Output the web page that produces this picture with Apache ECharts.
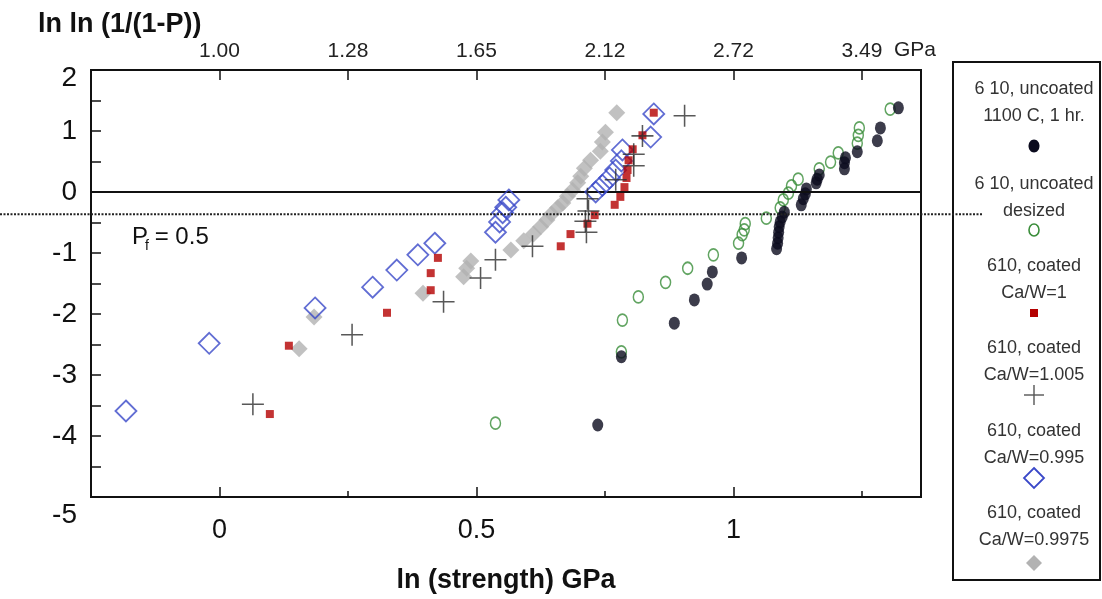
<!DOCTYPE html>
<html>
<head>
<meta charset="utf-8">
<script src="https://cdn.jsdelivr.net/npm/echarts@6/dist/echarts.min.js"></script>
<style>
  html, body { margin: 0; padding: 0; background: #fff; }
  #chart { width: 1102px; height: 599px; }
</style>
</head>
<body>
<div id="chart"></div>
<script>
// Weibull plot: ln ln (1/(1-P)) against ln(strength), 610 fibre tows

// [ln(strength / GPa), ln ln (1/(1-P))]
const uncoated1100C = [
  [0.736,-3.82],[0.782,-2.70],[0.885,-2.15],[0.924,-1.77],[0.949,-1.51],[0.959,-1.31],
  [1.016,-1.08],[1.084,-0.93],[1.086,-0.84],[1.087,-0.75],[1.088,-0.66],[1.089,-0.57],
  [1.091,-0.49],[1.095,-0.41],[1.099,-0.33],[1.132,-0.21],[1.136,-0.11],[1.140,-0.03],
  [1.142,0.05],[1.161,0.15],[1.163,0.21],[1.167,0.28],[1.216,0.38],[1.216,0.48],
  [1.218,0.56],[1.241,0.66],[1.280,0.84],[1.286,1.05],[1.321,1.38]
];
const uncoatedDesized = [
  [0.537,-3.79],[0.782,-2.62],[0.784,-2.10],[0.815,-1.72],[0.868,-1.48],[0.911,-1.25],
  [0.961,-1.03],[1.010,-0.84],[1.017,-0.70],[1.021,-0.62],[1.023,-0.52],[1.064,-0.43],
  [1.091,-0.26],[1.097,-0.13],[1.107,-0.02],[1.113,0.10],[1.126,0.21],[1.167,0.38],
  [1.189,0.49],[1.204,0.64],[1.241,0.80],[1.243,0.93],[1.245,1.05],[1.305,1.36]
];
const coatedCaW1 = [
  [0.098,-3.64],[0.135,-2.52],[0.326,-1.98],[0.411,-1.61],[0.411,-1.33],[0.425,-1.08],
  [0.664,-0.89],[0.683,-0.69],[0.716,-0.52],[0.730,-0.38],[0.769,-0.21],[0.780,-0.08],
  [0.788,0.08],[0.792,0.23],[0.794,0.36],[0.796,0.52],[0.804,0.70],[0.823,0.93],[0.845,1.30]
];
const coatedCaW1005 = [
  [0.065,-3.48],[0.258,-2.34],[0.436,-1.80],[0.508,-1.41],[0.537,-1.11],[0.609,-0.89],
  [0.714,-0.66],[0.712,-0.48],[0.718,-0.31],[0.716,-0.11],[0.771,0.20],[0.806,0.43],
  [0.806,0.62],[0.823,0.92],[0.905,1.25]
];
const coatedCaW0995 = [
  [-0.182,-3.59],[-0.020,-2.48],[0.186,-1.90],[0.298,-1.56],[0.345,-1.28],[0.386,-1.03],
  [0.419,-0.84],[0.537,-0.66],[0.545,-0.49],[0.551,-0.34],[0.557,-0.25],[0.563,-0.13],
  [0.732,0.00],[0.745,0.11],[0.759,0.23],[0.771,0.36],[0.782,0.51],[0.784,0.69],
  [0.839,0.90],[0.845,1.28]
];
const coatedCaW09975 = [
  [0.155,-2.57],[0.184,-2.05],[0.396,-1.66],[0.475,-1.39],[0.481,-1.25],[0.489,-1.13],
  [0.567,-0.95],[0.592,-0.80],[0.611,-0.69],[0.625,-0.57],[0.637,-0.46],[0.646,-0.36],
  [0.658,-0.26],[0.668,-0.18],[0.677,-0.07],[0.687,0.03],[0.697,0.15],[0.703,0.26],
  [0.710,0.39],[0.722,0.52],[0.741,0.67],[0.745,0.82],[0.751,0.98],[0.773,1.30]
];

// axis ticks
const lnMajorTicks = [0, 0.5, 1];
const lnMinorTicks = [0.25, 0.75, 1.25];
const gpaTicks = [0, 0.25, 0.5, 0.75, 1, 1.25];
const gpaLabels = ['1.00', '1.28', '1.65', '2.12', '2.72', '3.49'];

// median failure probability, P = 0.5
const pfLevel = Math.log(Math.log(2));

const FONT = '"Liberation Sans", Arial, sans-serif';
const INK = '#111';

const CROSS = 'path://M0,9.3H20V10.7H0Z M9.3,0H10.7V20H9.3Z';

const seriesDefs = [
  { name: '6 10, uncoated\ndesized', data: uncoatedDesized, icon: 'ring',
    symbol: 'circle', size: [10, 12],
    style: { color: 'rgba(0,0,0,0)', borderColor: '#3a8d3a', borderWidth: 1.6 }, z: 2 },
  { name: '6 10, uncoated\n1100 C, 1 hr.', data: uncoated1100C, icon: 'dot',
    symbol: 'circle', size: [11, 13], style: { color: '#0b0b1e' }, z: 3 },
  { name: '610, coated\nCa/W=0.9975', data: coatedCaW09975, icon: 'solidDiamond',
    symbol: 'diamond', size: 17, style: { color: '#b2b2b2' }, z: 4 },
  { name: '610, coated\nCa/W=0.995', data: coatedCaW0995, icon: 'openDiamond',
    symbol: 'diamond', size: 21,
    style: { color: 'rgba(0,0,0,0)', borderColor: '#3a48c8', borderWidth: 1.8 }, z: 5 },
  { name: '610, coated\nCa/W=1', data: coatedCaW1, icon: 'square',
    symbol: 'rect', size: 8, style: { color: '#b40000' }, z: 6 },
  { name: '610, coated\nCa/W=1.005', data: coatedCaW1005, icon: 'cross',
    symbol: CROSS, size: 22, style: { color: '#2e2e2e' }, z: 7 }
];

// order of entries in the key box
const keyOrder = [
  '6 10, uncoated\n1100 C, 1 hr.',
  '6 10, uncoated\ndesized',
  '610, coated\nCa/W=1',
  '610, coated\nCa/W=1.005',
  '610, coated\nCa/W=0.995',
  '610, coated\nCa/W=0.9975'
];

const chart = echarts.init(document.getElementById('chart'), null, { renderer: 'canvas' });

const series = seriesDefs.map(d => ({
  name: d.name,
  type: 'scatter',
  data: d.data,
  symbol: d.symbol,
  symbolSize: d.size,
  itemStyle: d.style,
  z: d.z,
  silent: true
}));

// solid reference line at zero
series.push({
  type: 'scatter',
  data: [],
  silent: true,
  markLine: {
    silent: true,
    symbol: 'none',
    label: { show: false },
    lineStyle: { color: INK, width: 2, type: 'solid' },
    data: [{ yAxis: 0 }]
  }
});

const xMin = -0.25, xMax = 1.365;
const yMin = -5, yMax = 2;

chart.setOption({
  animation: false,
  title: {
    text: 'ln ln (1/(1-P))',
    left: 33, top: 6,
    textStyle: { fontFamily: FONT, fontSize: 27, fontWeight: 'bold', color: INK }
  },
  grid: {
    left: 91, top: 70, width: 830, height: 427,
    show: true, borderColor: INK, borderWidth: 2, backgroundColor: 'rgba(0,0,0,0)'
  },
  xAxis: [
    {
      type: 'value', position: 'bottom', min: xMin, max: xMax,
      name: 'ln (strength) GPa', nameLocation: 'middle', nameGap: 70,
      nameTextStyle: { fontFamily: FONT, fontSize: 27, fontWeight: 'bold', color: INK },
      axisLine: { show: false, onZero: false },
      splitLine: { show: false },
      axisTick: { show: true, inside: true, length: 10, customValues: lnMajorTicks,
                  lineStyle: { color: INK, width: 1.5 } },
      axisLabel: { customValues: lnMajorTicks, fontFamily: FONT, fontSize: 27, color: INK, margin: 20,
                   formatter: v => String(v) }
    },
    {
      type: 'value', position: 'top', min: xMin, max: xMax,
      axisLine: { show: false, onZero: false },
      splitLine: { show: false },
      axisTick: { show: true, inside: true, length: 10, customValues: gpaTicks,
                  lineStyle: { color: INK, width: 1.5 } },
      axisLabel: { customValues: gpaTicks, fontFamily: FONT, fontSize: 21, color: '#222', margin: 8,
                   formatter: v => {
                     const i = gpaTicks.findIndex(t => Math.abs(t - v) < 1e-6);
                     return i >= 0 ? gpaLabels[i] : '';
                   } }
    },
    {
      type: 'value', position: 'bottom', min: xMin, max: xMax,
      axisLine: { show: false, onZero: false },
      splitLine: { show: false },
      axisTick: { show: true, inside: true, length: 6, customValues: lnMinorTicks,
                  lineStyle: { color: INK, width: 1.5 } },
      axisLabel: { show: false }
    }
  ],
  yAxis: {
    type: 'value', min: yMin, max: yMax, interval: 1,
    axisLine: { show: false, onZero: false },
    splitLine: { show: false },
    axisTick: { show: true, inside: true, length: 10, lineStyle: { color: INK, width: 1.5 } },
    minorTick: { show: true, splitNumber: 2, length: 10, lineStyle: { color: INK, width: 1.5 } },
    axisLabel: {
      fontFamily: FONT, fontSize: 28, color: INK, margin: 14,
      formatter: v => v === yMin ? '{lo|' + v + '}' : v === yMax ? '{hi|' + v + '}' : String(v),
      rich: {
        lo: { fontFamily: FONT, fontSize: 28, color: INK, padding: [36, 0, 0, 0] },
        hi: { fontFamily: FONT, fontSize: 28, color: INK, padding: [16, 0, 0, 0] }
      }
    }
  },
  series: series
});

// key box, P = 0.5 line and annotations
function keyIcon(kind, cx, cy) {
  switch (kind) {
    case 'dot':
      return { type: 'ellipse', shape: { cx, cy, rx: 5.5, ry: 6.5 }, style: { fill: '#0b0b1e' } };
    case 'ring':
      return { type: 'ellipse', shape: { cx, cy, rx: 5, ry: 6 },
               style: { fill: 'none', stroke: '#3a8d3a', lineWidth: 1.6 } };
    case 'square':
      return { type: 'rect', shape: { x: cx - 4, y: cy - 4, width: 8, height: 8 }, style: { fill: '#b40000' } };
    case 'cross':
      return { type: 'group', children: [
        { type: 'line', shape: { x1: cx - 10, y1: cy, x2: cx + 10, y2: cy }, style: { stroke: '#555', lineWidth: 1.4 } },
        { type: 'line', shape: { x1: cx, y1: cy - 10, x2: cx, y2: cy + 10 }, style: { stroke: '#555', lineWidth: 1.4 } }
      ] };
    case 'openDiamond':
      return { type: 'polygon', shape: { points: [[cx, cy - 10], [cx + 10, cy], [cx, cy + 10], [cx - 10, cy]] },
               style: { fill: 'none', stroke: '#3a48c8', lineWidth: 1.8 } };
    case 'solidDiamond':
      return { type: 'polygon', shape: { points: [[cx, cy - 8], [cx + 8, cy], [cx, cy + 8], [cx - 8, cy]] },
               style: { fill: '#b2b2b2' } };
  }
}

const keyX = 1034;
const keyTextTop = [76, 171, 253, 335, 418, 500];
const keyIconY = [146, 230, 313, 395, 478, 563];
const keyChildren = [
  { type: 'rect', shape: { x: 953, y: 62, width: 147, height: 518 },
    style: { fill: '#fff', stroke: INK, lineWidth: 2 } }
];
keyOrder.forEach((name, i) => {
  const def = seriesDefs.find(d => d.name === name);
  keyChildren.push({
    type: 'text',
    style: { x: keyX, y: keyTextTop[i], text: name, align: 'center', verticalAlign: 'top',
             font: '18px ' + FONT, fill: '#333', lineHeight: 27 }
  });
  keyChildren.push(keyIcon(def.icon, keyX, keyIconY[i]));
});

const pfY = chart.convertToPixel({ yAxisIndex: 0 }, pfLevel);
const gpaEnd = chart.convertToPixel({ xAxisIndex: 1 }, gpaTicks[gpaTicks.length - 1]);

chart.setOption({
  graphic: [
    { type: 'group', z: 10, children: keyChildren },
    { type: 'line', z: 11, silent: true,
      shape: { x1: 0, y1: pfY, x2: 982, y2: pfY },
      style: { stroke: '#222', lineWidth: 2, lineDash: [2, 1.5] } },
    { type: 'text', z: 12,
      style: { x: gpaEnd + 32, y: 50, text: 'GPa', align: 'left', verticalAlign: 'middle',
               font: '21px ' + FONT, fill: '#222' } },
    { type: 'text', z: 12,
      style: { x: 132, y: 237, text: 'P = 0.5', align: 'left', verticalAlign: 'middle',
               font: '24px ' + FONT, fill: INK } },
    { type: 'text', z: 12,
      style: { x: 145, y: 246, text: 'f', align: 'left', verticalAlign: 'middle',
               font: '14px ' + FONT, fill: INK } }
  ]
});
</script>
</body>
</html>
